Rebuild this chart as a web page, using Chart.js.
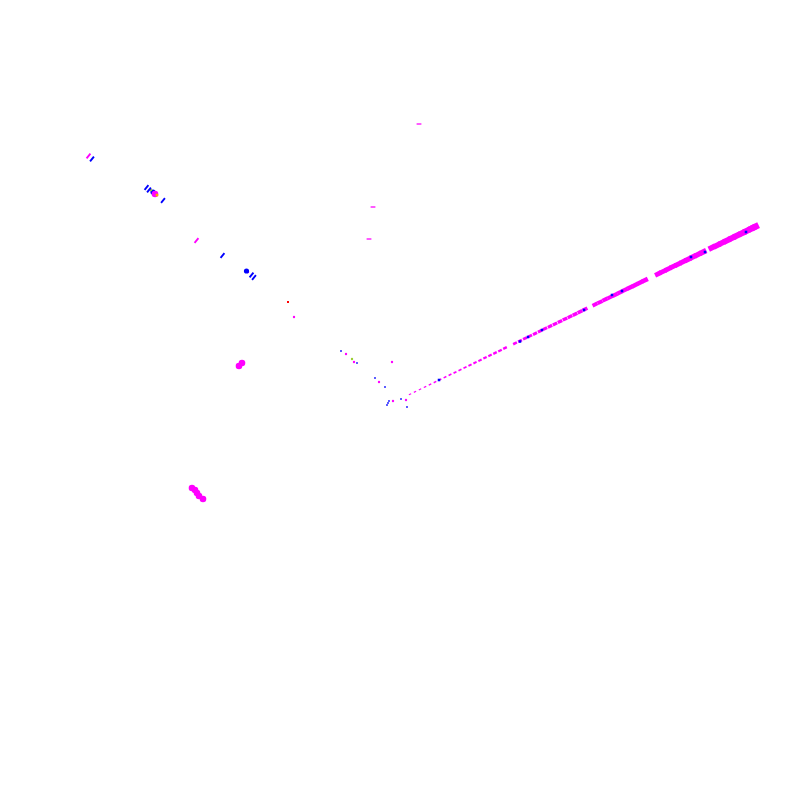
<!DOCTYPE html>
<html>
<head>
<meta charset="utf-8">
<script src="https://cdn.jsdelivr.net/npm/chart.js@4"></script>
<style>
    html, body { margin: 0; padding: 0; background: #fff; overflow: hidden; }
    #wrap { width: 800px; height: 800px; position: relative; }
</style>
</head>
<body>
<div id="wrap"><canvas id="myChart"></canvas></div>
<script>
//============================
//  data
//============================
// long magenta arm, left to right
const lineMagenta = [
    [410, 394.2], [415, 391.8], [420, 389.4], [425, 386.9], [430, 384.5],
    [435, 382.1], [440, 379.7], [445, 377.2], [450, 374.8], [455, 372.4],
    [460, 370.0], [465, 367.5], [470, 365.1], [475, 362.7], [480, 360.3],
    [485, 357.8], [490, 355.4], [495, 353.0], [500, 350.6], [505, 348.1],
    [515, 343.3], [520, 340.9], [525, 338.4], [530, 336.0], [535, 333.6],
    [540, 331.2], [545, 328.7], [550, 326.3], [555, 323.9], [560, 321.5],
    [565, 319.0], [570, 316.6], [575, 314.2], [580, 311.8], [585, 309.3],
    [595, 304.5], [600, 302.1], [605, 299.6], [610, 297.2], [615, 294.8],
    [620, 292.4], [625, 289.9], [630, 287.5], [635, 285.1], [640, 282.7],
    [645, 280.2], [658, 273.9], [663, 271.5], [668, 269.1], [673, 266.6],
    [678, 264.2], [683, 261.8], [688, 259.4], [693, 256.9], [698, 254.5],
    [703, 252.1], [712, 247.7], [717, 245.3], [722, 242.9], [727, 240.5],
    [732, 238.0], [737, 235.6], [742, 233.2], [747, 230.8], [752, 228.3],
    [755, 226.9]
];
// blue marks sitting on the long arm
const lineBlue = [
    [439, 380], [520, 341.5], [528, 337], [542, 330], [584, 310],
    [612, 295], [622, 291], [691, 257], [705, 252], [746, 232]
];
// short diagonal strokes on the upper-left arm
const armBlue = [
    [92, 159], [146.5, 187.5], [149, 190], [163, 200.5],
    [222.5, 255.5], [251.5, 275], [254, 277.5]
];
const armMagenta = [[88.5, 156], [196.5, 240.5]];
// flat magenta dashes
const flatMagenta = [[419, 124], [373, 207], [369, 239]];
// single small dots
const dotsMagenta = [
    [294, 317], [346, 354], [354, 362], [392, 362], [379, 382],
    [393, 401], [406, 400], [248, 272]
];
const dotsBlue = [
    [341, 351], [357, 363], [375, 378], [385, 387], [389, 401],
    [388, 403], [387, 405], [401, 399], [407, 407]
];
const dotsRed = [[288, 302]];
const dotsOrange = [[157, 195]];
const dotsGreen = [[352, 359], [151, 190]];
// larger blobs
const blobsMagenta = [
    [239, 366], [242, 363], [155, 194],
    [192, 488], [195, 490], [197, 493], [199, 496], [203, 499]
];
const blobsBlue = [[153, 192], [246.5, 271]];

const toPts = arr => arr.map(p => ({ x: p[0], y: p[1] }));

function dotSet(data, color, opts) {
    return Object.assign({
        data: toPts(data),
        backgroundColor: color,
        borderColor: color,
        borderWidth: 0,
        pointRadius: 1.2,
        pointStyle: 'circle',
        clip: false
    }, opts || {});
}

// how far along the long arm a point sits (0 at the knee, 1 at the tip)
const along = (c) => (c.raw ? Math.max(0, (c.raw.x - 405) / 350) : 0);

const ctx = document.getElementById('myChart').getContext('2d');

new Chart(ctx, {
    type: 'scatter',
    data: {
        datasets: [
            dotSet(lineBlue, '#0000ff', { pointStyle: 'rect', pointRadius: 1.8, order: 1 }),
            dotSet(armBlue, '#0000ff', {
                pointStyle: 'line', pointRotation: -50, pointRadius: 3, borderWidth: 1.9
            }),
            dotSet(armMagenta, '#ff00ff', {
                pointStyle: 'line', pointRotation: -50, pointRadius: 3, borderWidth: 1.9
            }),
            dotSet(flatMagenta, '#ff00ff', {
                pointStyle: 'line', pointRotation: 0, pointRadius: 2.4, borderWidth: 1.3
            }),
            dotSet(dotsOrange, '#ffa500', { pointRadius: 1.5 }),
            dotSet(dotsGreen, '#9acd32', { pointRadius: 1.2 }),
            dotSet(blobsMagenta, '#ff00ff', { pointRadius: 3.3 }),
            dotSet(blobsBlue, '#0000ff', { pointRadius: 2.6 }),
            dotSet(dotsMagenta, '#ff00ff'),
            dotSet(dotsBlue, '#0000ff', { pointStyle: 'rect' }),
            dotSet(dotsRed, '#ff0000', { pointStyle: 'rect', pointRadius: 1.4 }),
            dotSet(lineMagenta, '#ff00ff', {
                order: 2,
                pointStyle: 'line',
                pointRotation: -26,
                pointRadius: (c) => 1.2 + along(c) * 2.8,
                borderWidth: (c) => 1 + along(c) * 5.2
            })
        ]
    },
    options: {
        responsive: true,
        maintainAspectRatio: false,
        animation: false,
        layout: { padding: 0, autoPadding: false },
        plugins: {
            legend: { display: false },
            tooltip: { enabled: false },
            title: { display: false }
        },
        scales: {
            x: { type: 'linear', min: 0, max: 800, display: false },
            y: { type: 'linear', min: 0, max: 800, reverse: true, display: false }
        }
    }
});
</script>
</body>
</html>
